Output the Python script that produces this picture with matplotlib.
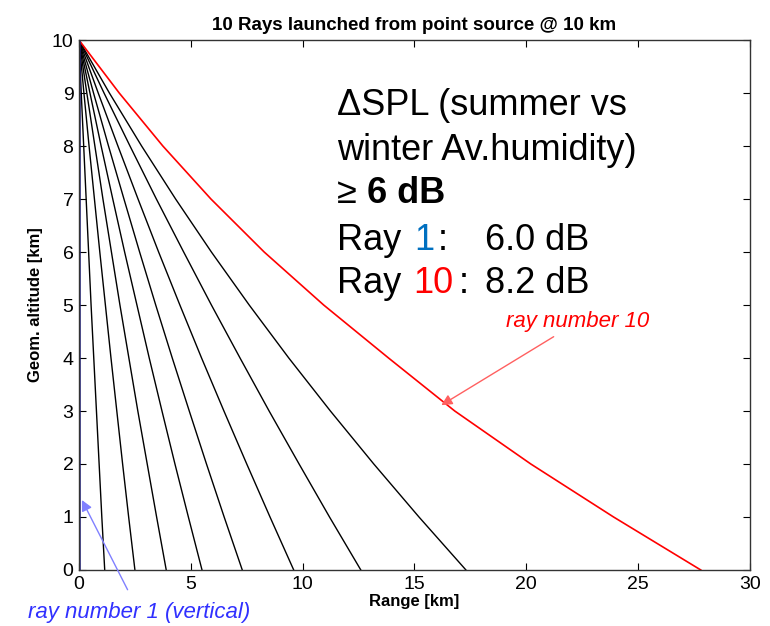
import numpy as np
import matplotlib
matplotlib.use("Agg")
import matplotlib.pyplot as plt

plt.rcParams['font.family'] = ['Liberation Sans', 'DejaVu Sans']

altitude = [10, 9, 8, 7, 6, 5, 4, 3, 2, 1, 0]

# range (km) of each ray at those altitudes, ray 1 .. ray 10
ray1 = [0, 0, 0, 0, 0, 0, 0, 0, 0, 0, 0]
ray2 = [0, 0.10, 0.21, 0.32, 0.43, 0.54, 0.66, 0.78, 0.90, 1.02, 1.15]
ray3 = [0, 0.22, 0.45, 0.69, 0.93, 1.18, 1.43, 1.69, 1.95, 2.22, 2.5]
ray4 = [0, 0.35, 0.71, 1.07, 1.45, 1.83, 2.23, 2.63, 3.05, 3.47, 3.9]
ray5 = [0, 0.49, 0.99, 1.51, 2.04, 2.59, 3.14, 3.71, 4.29, 4.89, 5.5]
ray6 = [0, 0.65, 1.32, 2.01, 2.71, 3.43, 4.17, 4.93, 5.70, 6.49, 7.3]
ray7 = [0, 0.86, 1.74, 2.64, 3.56, 4.51, 5.48, 6.48, 7.50, 8.54, 9.6]
ray8 = [0, 1.12, 2.28, 3.46, 4.68, 5.92, 7.20, 8.50, 9.84, 11.20, 12.6]
ray9 = [0, 1.36, 2.80, 4.32, 5.92, 7.61, 9.38, 11.24, 13.18, 15.20, 17.3]
ray10 = [0, 1.80, 3.75, 5.90, 8.28, 10.94, 13.84, 16.8, 20.2, 23.9, 27.8]

fig = plt.figure(figsize=(7.7, 6.26), dpi=100)
ax = fig.add_axes([0.1026, 0.0895, 0.8714, 0.8465])

for r in [ray2, ray3, ray4, ray5, ray6, ray7, ray8, ray9]:
    ax.plot(r, altitude, color='black', lw=1.0)
ax.plot(ray10, altitude, color='red', lw=1.2)
ax.plot(ray1, altitude, color='#1c1c80', lw=1.8)

ax.set_xlim(0, 30)
ax.set_ylim(0, 10)
ax.set_xticks(np.arange(0, 31, 5))
ax.set_yticks(np.arange(0, 11, 1))
ax.tick_params(direction='in', top=True, right=True, length=5, labelsize=14, pad=4)
for s in ax.spines.values():
    s.set_linewidth(1.0)
    s.set_color('#333333')

ax.set_title('10 Rays launched from point source @ 10 km', fontsize=13.5, fontweight='bold', pad=7)
ax.set_xlabel('Range [km]', fontsize=12, fontweight='bold', labelpad=1)
ax.set_ylabel('Geom. altitude [km]', fontsize=12, fontweight='bold', labelpad=6)

# annotations for rays
ax.annotate('ray number 10', xy=(16.2, 3.11), xytext=(19.1, 4.68),
            color='red', fontsize=16, style='italic', va='center', ha='left',
            arrowprops=dict(arrowstyle='-|>', color='#ff6060', lw=1, mutation_scale=16,
                            shrinkA=2, shrinkB=0))
ax.annotate('ray number 1 (vertical)', xy=(0.13, 1.32), xytext=(2.7, -0.81),
            color='#3030ff', fontsize=16, style='italic', va='center', ha='center',
            annotation_clip=False,
            arrowprops=dict(arrowstyle='-|>', color='#8080ff', lw=1, mutation_scale=16,
                            shrinkA=8, shrinkB=0))

# text box
fs = 26
fig.text(0.4377, 0.8163, '\u0394SPL (summer vs', fontsize=fs, va='baseline')
fig.text(0.4377, 0.7444, 'winter Av.humidity)', fontsize=fs, va='baseline')
fig.text(0.4377, 0.6757, '\u2265', fontsize=fs, va='baseline')
fig.text(0.4766, 0.6757, '6 dB', fontsize=fs, va='baseline', fontweight='bold')
fig.text(0.4377, 0.6006, 'Ray', fontsize=fs, va='baseline')
fig.text(0.5380, 0.6006, '1', fontsize=fs, va='baseline', color='#0070c0')
fig.text(0.5680, 0.6006, ':', fontsize=fs, va='baseline')
fig.text(0.6300, 0.6006, '6.0 dB', fontsize=fs, va='baseline')
fig.text(0.4377, 0.5320, 'Ray', fontsize=fs, va='baseline')
fig.text(0.5370, 0.5320, '10', fontsize=fs, va='baseline', color='red')
fig.text(0.5960, 0.5320, ':', fontsize=fs, va='baseline')
fig.text(0.6300, 0.5320, '8.2 dB', fontsize=fs, va='baseline')

fig.savefig('out.png', dpi=100)
